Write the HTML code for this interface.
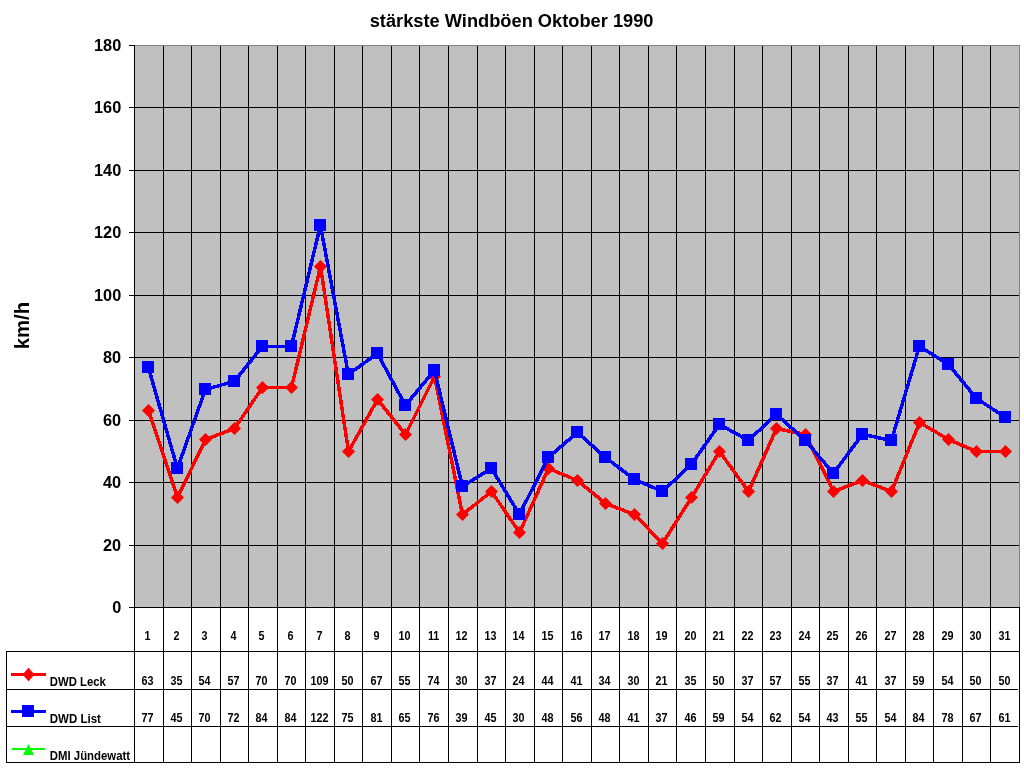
<!DOCTYPE html>
<html lang="de"><head><meta charset="utf-8"><title>stärkste Windböen Oktober 1990</title>
<style>html,body{margin:0;padding:0;background:#fff;}body{width:1024px;height:768px;overflow:hidden;}svg{display:block;}text{font-family:"Liberation Sans",Arial,sans-serif;font-weight:bold;fill:#000;}</style></head><body>
<svg width="1024" height="768" viewBox="0 0 1024 768">
<rect x="0" y="0" width="1024" height="768" fill="#fff"/>
<rect x="134.5" y="45.5" width="885" height="562" fill="#c0c0c0" stroke="#808080" stroke-width="1" shape-rendering="crispEdges"/>
<path d="M134 107.5H1019 M134 170.5H1019 M134 232.5H1019 M134 295.5H1019 M134 357.5H1019 M134 420.5H1019 M134 482.5H1019 M134 545.5H1019 M163.5 46V762 M191.5 46V762 M220.5 46V762 M248.5 46V762 M277.5 46V762 M305.5 46V762 M334.5 46V762 M362.5 46V762 M391.5 46V762 M419.5 46V762 M448.5 46V762 M477.5 46V762 M505.5 46V762 M534.5 46V762 M562.5 46V762 M591.5 46V762 M619.5 46V762 M648.5 46V762 M676.5 46V762 M705.5 46V762 M734.5 46V762 M762.5 46V762 M791.5 46V762 M819.5 46V762 M848.5 46V762 M876.5 46V762 M905.5 46V762 M933.5 46V762 M962.5 46V762 M990.5 46V762 M134.5 45V763 M1019.5 607V763 M129 45.5H135 M129 107.5H135 M129 170.5H135 M129 232.5H135 M129 295.5H135 M129 357.5H135 M129 420.5H135 M129 482.5H135 M129 545.5H135 M129 607.5H135 M134 607.5H1020 M6 651.5H1020 M6.5 651V763 M6 689.5H1018 M6 726.5H1018 M6 762.5H1020" fill="none" stroke="#000" stroke-width="1" shape-rendering="crispEdges"/>
<path d="M148.5 410.5 L177.5 497.5 L205.5 439.5 L234.5 428.5 L262.5 387.5 L291.5 387.5 L320.5 266.5 L348.5 451.5 L377.5 399.5 L405.5 434.5 L434.5 376.5 L462.5 514.5 L491.5 491.5 L519.5 532.5 L548.5 468.5 L577.5 480.5 L605.5 503.5 L634.5 514.5 L662.5 543.5 L691.5 497.5 L719.5 451.5 L748.5 491.5 L776.5 428.5 L805.5 434.5 L833.5 491.5 L862.5 480.5 L891.5 491.5 L919.5 422.5 L948.5 439.5 L976.5 451.5 L1005.5 451.5" fill="none" stroke="#ff0000" stroke-width="3.5" stroke-linejoin="round" shape-rendering="crispEdges"/>
<path d="M148.5 404l6.5 6.5l-6.5 6.5l-6.5 -6.5z M177.5 491l6.5 6.5l-6.5 6.5l-6.5 -6.5z M205.5 433l6.5 6.5l-6.5 6.5l-6.5 -6.5z M234.5 422l6.5 6.5l-6.5 6.5l-6.5 -6.5z M262.5 381l6.5 6.5l-6.5 6.5l-6.5 -6.5z M291.5 381l6.5 6.5l-6.5 6.5l-6.5 -6.5z M320.5 260l6.5 6.5l-6.5 6.5l-6.5 -6.5z M348.5 445l6.5 6.5l-6.5 6.5l-6.5 -6.5z M377.5 393l6.5 6.5l-6.5 6.5l-6.5 -6.5z M405.5 428l6.5 6.5l-6.5 6.5l-6.5 -6.5z M434.5 370l6.5 6.5l-6.5 6.5l-6.5 -6.5z M462.5 508l6.5 6.5l-6.5 6.5l-6.5 -6.5z M491.5 485l6.5 6.5l-6.5 6.5l-6.5 -6.5z M519.5 526l6.5 6.5l-6.5 6.5l-6.5 -6.5z M548.5 462l6.5 6.5l-6.5 6.5l-6.5 -6.5z M577.5 474l6.5 6.5l-6.5 6.5l-6.5 -6.5z M605.5 497l6.5 6.5l-6.5 6.5l-6.5 -6.5z M634.5 508l6.5 6.5l-6.5 6.5l-6.5 -6.5z M662.5 537l6.5 6.5l-6.5 6.5l-6.5 -6.5z M691.5 491l6.5 6.5l-6.5 6.5l-6.5 -6.5z M719.5 445l6.5 6.5l-6.5 6.5l-6.5 -6.5z M748.5 485l6.5 6.5l-6.5 6.5l-6.5 -6.5z M776.5 422l6.5 6.5l-6.5 6.5l-6.5 -6.5z M805.5 428l6.5 6.5l-6.5 6.5l-6.5 -6.5z M833.5 485l6.5 6.5l-6.5 6.5l-6.5 -6.5z M862.5 474l6.5 6.5l-6.5 6.5l-6.5 -6.5z M891.5 485l6.5 6.5l-6.5 6.5l-6.5 -6.5z M919.5 416l6.5 6.5l-6.5 6.5l-6.5 -6.5z M948.5 433l6.5 6.5l-6.5 6.5l-6.5 -6.5z M976.5 445l6.5 6.5l-6.5 6.5l-6.5 -6.5z M1005.5 445l6.5 6.5l-6.5 6.5l-6.5 -6.5z" fill="#ff0000"/>
<path d="M148.4 367.4 L177.4 468.4 L205.4 389.4 L234.4 381.4 L262.4 346.4 L291.4 346.4 L320.4 225.4 L348.4 374.4 L377.4 353.4 L405.4 405.4 L434.4 370.4 L462.4 486.4 L491.4 468.4 L519.4 514.4 L548.4 457.4 L577.4 432.4 L605.4 457.4 L634.4 479.4 L662.4 491.4 L691.4 464.4 L719.4 424.4 L748.4 440.4 L776.4 414.4 L805.4 440.4 L833.4 473.4 L862.4 434.4 L891.4 440.4 L919.4 346.4 L948.4 364.4 L976.4 398.4 L1005.4 417.4" fill="none" stroke="#0000ff" stroke-width="3.5" stroke-linejoin="round" shape-rendering="crispEdges"/>
<path d="M142 361h12v12h-12z M171 462h12v12h-12z M199 383h12v12h-12z M228 375h12v12h-12z M256 340h12v12h-12z M285 340h12v12h-12z M314 219h12v12h-12z M342 368h12v12h-12z M371 347h12v12h-12z M399 399h12v12h-12z M428 364h12v12h-12z M456 480h12v12h-12z M485 462h12v12h-12z M513 508h12v12h-12z M542 451h12v12h-12z M571 426h12v12h-12z M599 451h12v12h-12z M628 473h12v12h-12z M656 485h12v12h-12z M685 458h12v12h-12z M713 418h12v12h-12z M742 434h12v12h-12z M770 408h12v12h-12z M799 434h12v12h-12z M827 467h12v12h-12z M856 428h12v12h-12z M885 434h12v12h-12z M913 340h12v12h-12z M942 358h12v12h-12z M970 392h12v12h-12z M999 411h12v12h-12z" fill="#0000ff" shape-rendering="crispEdges"/>
<text x="511.6" y="26.6" font-size="18.25" text-anchor="middle">stärkste Windböen Oktober 1990</text>
<text x="121.2" y="612.8" font-size="16.3" text-anchor="end">0</text>
<text x="121.2" y="550.8" font-size="16.3" text-anchor="end">20</text>
<text x="121.2" y="487.8" font-size="16.3" text-anchor="end">40</text>
<text x="121.2" y="425.8" font-size="16.3" text-anchor="end">60</text>
<text x="121.2" y="362.8" font-size="16.3" text-anchor="end">80</text>
<text x="121.2" y="300.8" font-size="16.3" text-anchor="end">100</text>
<text x="121.2" y="237.8" font-size="16.3" text-anchor="end">120</text>
<text x="121.2" y="175.8" font-size="16.3" text-anchor="end">140</text>
<text x="121.2" y="112.8" font-size="16.3" text-anchor="end">160</text>
<text x="121.2" y="50.8" font-size="16.3" text-anchor="end">180</text>
<text transform="translate(28.6 325.6) rotate(-90) scale(0.968 1)" font-size="21" text-anchor="middle">km/h</text>
<text transform="translate(147.6 640) scale(0.9 1)" font-size="12" text-anchor="middle">1</text>
<text transform="translate(147.6 684.8) scale(0.9 1)" font-size="12" text-anchor="middle">63</text>
<text transform="translate(147.6 721.8) scale(0.9 1)" font-size="12" text-anchor="middle">77</text>
<text transform="translate(176.6 640) scale(0.9 1)" font-size="12" text-anchor="middle">2</text>
<text transform="translate(176.6 684.8) scale(0.9 1)" font-size="12" text-anchor="middle">35</text>
<text transform="translate(176.6 721.8) scale(0.9 1)" font-size="12" text-anchor="middle">45</text>
<text transform="translate(204.6 640) scale(0.9 1)" font-size="12" text-anchor="middle">3</text>
<text transform="translate(204.6 684.8) scale(0.9 1)" font-size="12" text-anchor="middle">54</text>
<text transform="translate(204.6 721.8) scale(0.9 1)" font-size="12" text-anchor="middle">70</text>
<text transform="translate(233.6 640) scale(0.9 1)" font-size="12" text-anchor="middle">4</text>
<text transform="translate(233.6 684.8) scale(0.9 1)" font-size="12" text-anchor="middle">57</text>
<text transform="translate(233.6 721.8) scale(0.9 1)" font-size="12" text-anchor="middle">72</text>
<text transform="translate(261.6 640) scale(0.9 1)" font-size="12" text-anchor="middle">5</text>
<text transform="translate(261.6 684.8) scale(0.9 1)" font-size="12" text-anchor="middle">70</text>
<text transform="translate(261.6 721.8) scale(0.9 1)" font-size="12" text-anchor="middle">84</text>
<text transform="translate(290.6 640) scale(0.9 1)" font-size="12" text-anchor="middle">6</text>
<text transform="translate(290.6 684.8) scale(0.9 1)" font-size="12" text-anchor="middle">70</text>
<text transform="translate(290.6 721.8) scale(0.9 1)" font-size="12" text-anchor="middle">84</text>
<text transform="translate(319.6 640) scale(0.9 1)" font-size="12" text-anchor="middle">7</text>
<text transform="translate(319.6 684.8) scale(0.9 1)" font-size="12" text-anchor="middle">109</text>
<text transform="translate(319.6 721.8) scale(0.9 1)" font-size="12" text-anchor="middle">122</text>
<text transform="translate(347.6 640) scale(0.9 1)" font-size="12" text-anchor="middle">8</text>
<text transform="translate(347.6 684.8) scale(0.9 1)" font-size="12" text-anchor="middle">50</text>
<text transform="translate(347.6 721.8) scale(0.9 1)" font-size="12" text-anchor="middle">75</text>
<text transform="translate(376.6 640) scale(0.9 1)" font-size="12" text-anchor="middle">9</text>
<text transform="translate(376.6 684.8) scale(0.9 1)" font-size="12" text-anchor="middle">67</text>
<text transform="translate(376.6 721.8) scale(0.9 1)" font-size="12" text-anchor="middle">81</text>
<text transform="translate(404.6 640) scale(0.9 1)" font-size="12" text-anchor="middle">10</text>
<text transform="translate(404.6 684.8) scale(0.9 1)" font-size="12" text-anchor="middle">55</text>
<text transform="translate(404.6 721.8) scale(0.9 1)" font-size="12" text-anchor="middle">65</text>
<text transform="translate(433.6 640) scale(0.9 1)" font-size="12" text-anchor="middle">11</text>
<text transform="translate(433.6 684.8) scale(0.9 1)" font-size="12" text-anchor="middle">74</text>
<text transform="translate(433.6 721.8) scale(0.9 1)" font-size="12" text-anchor="middle">76</text>
<text transform="translate(461.6 640) scale(0.9 1)" font-size="12" text-anchor="middle">12</text>
<text transform="translate(461.6 684.8) scale(0.9 1)" font-size="12" text-anchor="middle">30</text>
<text transform="translate(461.6 721.8) scale(0.9 1)" font-size="12" text-anchor="middle">39</text>
<text transform="translate(490.6 640) scale(0.9 1)" font-size="12" text-anchor="middle">13</text>
<text transform="translate(490.6 684.8) scale(0.9 1)" font-size="12" text-anchor="middle">37</text>
<text transform="translate(490.6 721.8) scale(0.9 1)" font-size="12" text-anchor="middle">45</text>
<text transform="translate(518.6 640) scale(0.9 1)" font-size="12" text-anchor="middle">14</text>
<text transform="translate(518.6 684.8) scale(0.9 1)" font-size="12" text-anchor="middle">24</text>
<text transform="translate(518.6 721.8) scale(0.9 1)" font-size="12" text-anchor="middle">30</text>
<text transform="translate(547.6 640) scale(0.9 1)" font-size="12" text-anchor="middle">15</text>
<text transform="translate(547.6 684.8) scale(0.9 1)" font-size="12" text-anchor="middle">44</text>
<text transform="translate(547.6 721.8) scale(0.9 1)" font-size="12" text-anchor="middle">48</text>
<text transform="translate(576.6 640) scale(0.9 1)" font-size="12" text-anchor="middle">16</text>
<text transform="translate(576.6 684.8) scale(0.9 1)" font-size="12" text-anchor="middle">41</text>
<text transform="translate(576.6 721.8) scale(0.9 1)" font-size="12" text-anchor="middle">56</text>
<text transform="translate(604.6 640) scale(0.9 1)" font-size="12" text-anchor="middle">17</text>
<text transform="translate(604.6 684.8) scale(0.9 1)" font-size="12" text-anchor="middle">34</text>
<text transform="translate(604.6 721.8) scale(0.9 1)" font-size="12" text-anchor="middle">48</text>
<text transform="translate(633.6 640) scale(0.9 1)" font-size="12" text-anchor="middle">18</text>
<text transform="translate(633.6 684.8) scale(0.9 1)" font-size="12" text-anchor="middle">30</text>
<text transform="translate(633.6 721.8) scale(0.9 1)" font-size="12" text-anchor="middle">41</text>
<text transform="translate(661.6 640) scale(0.9 1)" font-size="12" text-anchor="middle">19</text>
<text transform="translate(661.6 684.8) scale(0.9 1)" font-size="12" text-anchor="middle">21</text>
<text transform="translate(661.6 721.8) scale(0.9 1)" font-size="12" text-anchor="middle">37</text>
<text transform="translate(690.6 640) scale(0.9 1)" font-size="12" text-anchor="middle">20</text>
<text transform="translate(690.6 684.8) scale(0.9 1)" font-size="12" text-anchor="middle">35</text>
<text transform="translate(690.6 721.8) scale(0.9 1)" font-size="12" text-anchor="middle">46</text>
<text transform="translate(718.6 640) scale(0.9 1)" font-size="12" text-anchor="middle">21</text>
<text transform="translate(718.6 684.8) scale(0.9 1)" font-size="12" text-anchor="middle">50</text>
<text transform="translate(718.6 721.8) scale(0.9 1)" font-size="12" text-anchor="middle">59</text>
<text transform="translate(747.6 640) scale(0.9 1)" font-size="12" text-anchor="middle">22</text>
<text transform="translate(747.6 684.8) scale(0.9 1)" font-size="12" text-anchor="middle">37</text>
<text transform="translate(747.6 721.8) scale(0.9 1)" font-size="12" text-anchor="middle">54</text>
<text transform="translate(775.6 640) scale(0.9 1)" font-size="12" text-anchor="middle">23</text>
<text transform="translate(775.6 684.8) scale(0.9 1)" font-size="12" text-anchor="middle">57</text>
<text transform="translate(775.6 721.8) scale(0.9 1)" font-size="12" text-anchor="middle">62</text>
<text transform="translate(804.6 640) scale(0.9 1)" font-size="12" text-anchor="middle">24</text>
<text transform="translate(804.6 684.8) scale(0.9 1)" font-size="12" text-anchor="middle">55</text>
<text transform="translate(804.6 721.8) scale(0.9 1)" font-size="12" text-anchor="middle">54</text>
<text transform="translate(832.6 640) scale(0.9 1)" font-size="12" text-anchor="middle">25</text>
<text transform="translate(832.6 684.8) scale(0.9 1)" font-size="12" text-anchor="middle">37</text>
<text transform="translate(832.6 721.8) scale(0.9 1)" font-size="12" text-anchor="middle">43</text>
<text transform="translate(861.6 640) scale(0.9 1)" font-size="12" text-anchor="middle">26</text>
<text transform="translate(861.6 684.8) scale(0.9 1)" font-size="12" text-anchor="middle">41</text>
<text transform="translate(861.6 721.8) scale(0.9 1)" font-size="12" text-anchor="middle">55</text>
<text transform="translate(890.6 640) scale(0.9 1)" font-size="12" text-anchor="middle">27</text>
<text transform="translate(890.6 684.8) scale(0.9 1)" font-size="12" text-anchor="middle">37</text>
<text transform="translate(890.6 721.8) scale(0.9 1)" font-size="12" text-anchor="middle">54</text>
<text transform="translate(918.6 640) scale(0.9 1)" font-size="12" text-anchor="middle">28</text>
<text transform="translate(918.6 684.8) scale(0.9 1)" font-size="12" text-anchor="middle">59</text>
<text transform="translate(918.6 721.8) scale(0.9 1)" font-size="12" text-anchor="middle">84</text>
<text transform="translate(947.6 640) scale(0.9 1)" font-size="12" text-anchor="middle">29</text>
<text transform="translate(947.6 684.8) scale(0.9 1)" font-size="12" text-anchor="middle">54</text>
<text transform="translate(947.6 721.8) scale(0.9 1)" font-size="12" text-anchor="middle">78</text>
<text transform="translate(975.6 640) scale(0.9 1)" font-size="12" text-anchor="middle">30</text>
<text transform="translate(975.6 684.8) scale(0.9 1)" font-size="12" text-anchor="middle">50</text>
<text transform="translate(975.6 721.8) scale(0.9 1)" font-size="12" text-anchor="middle">67</text>
<text transform="translate(1004.6 640) scale(0.9 1)" font-size="12" text-anchor="middle">31</text>
<text transform="translate(1004.6 684.8) scale(0.9 1)" font-size="12" text-anchor="middle">50</text>
<text transform="translate(1004.6 721.8) scale(0.9 1)" font-size="12" text-anchor="middle">61</text>
<path d="M11 674.5H46" stroke="#ff0000" stroke-width="3" fill="none" shape-rendering="crispEdges"/>
<path d="M28.5 667.8l6 6.7l-6 6.7l-6 -6.7z" fill="#ff0000"/>
<path d="M11 711.5H46" stroke="#0000ff" stroke-width="3" fill="none" shape-rendering="crispEdges"/>
<rect x="22" y="705" width="12" height="12" fill="#0000ff"/>
<path d="M12 749H45" stroke="#00ff00" stroke-width="2" fill="none" shape-rendering="crispEdges"/>
<path d="M28.5 744l5.5 11h-11z" fill="#00ff00"/>
<text transform="translate(49.8 685.6) scale(0.945 1)" font-size="12">DWD Leck</text>
<text transform="translate(49.8 722.5) scale(0.96 1)" font-size="12">DWD List</text>
<text transform="translate(49.8 759.8) scale(0.95 1)" font-size="12">DMI Jündewatt</text>
</svg></body></html>
